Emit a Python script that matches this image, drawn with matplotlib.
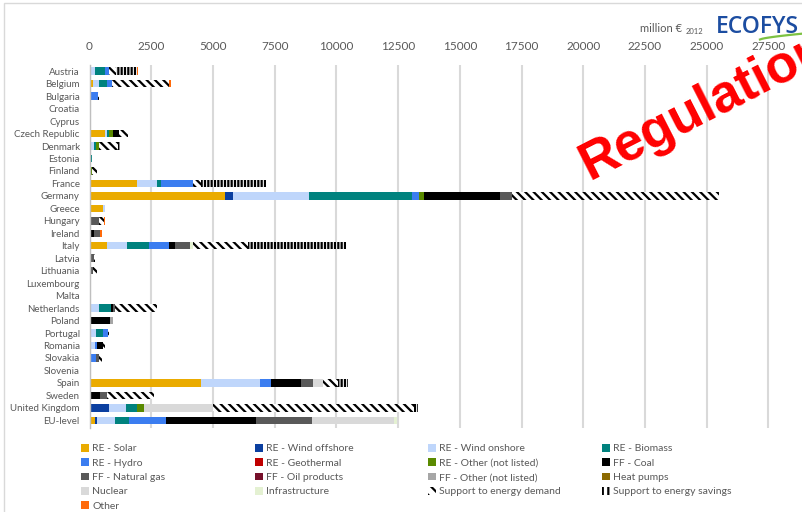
import matplotlib.pyplot as plt
import numpy as np
from matplotlib.patches import Patch, Rectangle
from matplotlib.lines import Line2D

plt.rcParams['font.family'] = ['Lato', 'DejaVu Sans']
plt.rcParams['hatch.linewidth'] = 1.6

# data (million EUR 2012)
countries = ['Austria', 'Belgium', 'Bulgaria', 'Croatia', 'Cyprus', 'Czech Republic', 'Denmark',
             'Estonia', 'Finland', 'France', 'Germany', 'Greece', 'Hungary', 'Ireland', 'Italy',
             'Latvia', 'Lithuania', 'Luxembourg', 'Malta', 'Netherlands', 'Poland', 'Portugal',
             'Romania', 'Slovakia', 'Slovenia', 'Spain', 'Sweden', 'United Kingdom', 'EU-level']

#            Aut  Bel  Bul Cro Cyp  Cze  Den Est Fin  Fra   Ger  Gre  Hun Ire  Ita Lat Lit Lux Mal  Net  Pol  Por  Rom  Slk  Slo   Spa   Swe   UK    EU
solar =     [30,  160, 0,  0,  0,   620, 0,  0,  0,   1930, 5470, 565, 0,  0,   715, 0,  0,  0,  0,  30,  0,   65,  0,   0,   0,   4500, 0,    0,    230]
wind_off =  [0,   0,   0,  0,  0,   0,   55, 0,  0,   0,    340,  0,   0,  0,   0,   0,  0,  0,  0,  0,   0,   0,   0,   0,   0,   0,    0,    785,  65]
wind_on =   [210, 215, 80, 25, 0,   80,  120, 0, 0,   820,  3065, 80,  0,  0,   795, 0,  0,  0,  0,  365, 0,   200, 230, 0,   0,   2400, 0,    700,  745]
biomass =   [405, 340, 0,  0,  0,   110, 70, 90, 50,  135,  4200, 0,   80, 0,   890, 0,  0,  0,  0,  485, 65,  270, 0,   0,   0,   0,    65,   445,  580]
hydro =     [135, 190, 245, 0, 0,   0,   0,  0,  0,   1300, 270,  0,   0,  0,   800, 0,  0,  50, 0,  0,   0,   200, 65,  270, 65,  445,  0,    0,    1460]
geotherm =  [0,   0,   0,  0,  0,   0,   0,  0,  0,   0,    0,    0,   0,  0,   40,  0,  0,  0,  0,  0,   0,   0,   0,   0,   0,   0,    0,    0,    30]
re_other =  [0,   0,   0,  0,  0,   135, 135, 0, 40,  0,    190,  0,   0,  70,  0,   0,  0,  0,  0,  0,   0,   0,   0,   0,   0,   0,    0,    295,  0]
coal =      [0,   0,   0,  0,  0,   245, 0,  0,  0,   0,    3105, 0,   0,  95,  230, 0,  0,  0,  0,  80,  770, 0,   245, 0,   0,   1215, 375,  0,    3615]
gas =       [0,   0,   0,  0,  0,   0,   0,  0,  0,   0,    485,  0,   325, 270, 610, 175, 150, 0, 0, 80,  0,   0,   0,   95,  0,   500,  270,  0,    2295]
oil =       [0] * 29
ff_other =  [0,   0,   0,  0,  0,   0,   0,  0,  0,   0,    0,    0,   0,  0,   0,   0,  0,  0,  0,  0,   105, 0,   0,   0,   0,   0,    0,    0,    0]
heat_pumps = [0] * 29
nuclear =   [0,   0,   0,  0,  0,   0,   0,  0,  0,   0,    0,    0,   0,  0,   0,   0,  0,  0,  0,  0,   0,   0,   0,   0,   0,   380,  0,    2765, 3305]
infra =     [0,   0,   0,  0,  0,   0,   0,  0,  0,   0,    0,    0,   0,  0,   130, 0,  0,  0,  0,  0,   0,   0,   0,   0,   0,   0,    0,    0,    140]
demand =    [310, 2310, 50, 0, 0,   365, 770, 0, 210, 340,  8370, 0,   175, 0,  2200, 40, 150, 0, 25, 1690, 0,  40,  95,  135, 0,   630,  1915, 8165, 0]
savings =   [835, 0,   0,  0,  0,   0,   70, 0,  0,   2630, 0,    0,   0,  0,   3985, 0,  0,  0,  0,  0,   0,   0,   0,   0,   0,   380,  0,    135,  0]
other =     [40,  70,  0,  0,  0,   0,   0,  0,  0,   0,    0,    0,   30, 65,  0,   0,  0,  0,  0,  0,   0,   0,   0,   0,   0,   0,    0,    0,    0]

series = [
    ('RE - Solar', solar, '#EAAB00', None),
    ('RE - Wind offshore', wind_off, '#0B3FA0', None),
    ('RE - Wind onshore', wind_on, '#BFD6FB', None),
    ('RE - Biomass', biomass, '#00827E', None),
    ('RE - Hydro', hydro, '#3B7DF0', None),
    ('RE - Geothermal', geotherm, '#C00000', None),
    ('RE - Other (not listed)', re_other, '#5A8A00', None),
    ('FF - Coal', coal, '#000000', None),
    ('FF - Natural gas', gas, '#595959', None),
    ('FF - Oil products', oil, '#76102B', None),
    ('FF - Other (not listed)', ff_other, '#A6A6A6', None),
    ('Heat pumps', heat_pumps, '#8C6A00', None),
    ('Nuclear', nuclear, '#D9D9D9', None),
    ('Infrastructure', infra, '#E4F1D2', None),
    ('Support to energy demand', demand, 'white', '\\\\\\\\'),
    ('Support to energy savings', savings, 'white', '|||||'),
    ('Other', other, '#FF6A0A', None),
]

W, H = 802, 512
fig = plt.figure(figsize=(W / 100, H / 100), dpi=100)
ax = fig.add_axes([89.5 / W, 84 / H, 740.7 / W, 363 / H])

y = np.arange(len(countries))
left = np.zeros(len(countries))
handles = {}
for name, vals, col, hatch in series:
    vals = np.array(vals, dtype=float)
    if hatch:
        ax.barh(y, vals, left=left, height=0.6, color='white', edgecolor='black',
                hatch=hatch, linewidth=0)
        handles[name] = Patch(facecolor='white', edgecolor='black', hatch='\\\\\\' if '\\' in hatch else '|||', linewidth=0)
    else:
        ax.barh(y, vals, left=left, height=0.6, color=col, linewidth=0)
        handles[name] = Patch(facecolor=col, linewidth=0)
    left += vals

ax.set_xlim(0, 30000)
ax.set_ylim(28.62, -0.5)
ax.set_xticks(np.arange(0, 30000, 2500))
ax.set_yticks(y)
ax.set_yticklabels(countries)
ax.xaxis.tick_top()
ax.tick_params(axis='x', length=0, pad=9, labelsize=8.5, labelcolor='#595959')
ax.tick_params(axis='y', length=0, pad=7, labelsize=7, labelcolor='#595959')
ax.grid(axis='x', color='#D9D9D9', linewidth=1.5)
ax.set_axisbelow(True)
for s in ['top', 'right', 'bottom']:
    ax.spines[s].set_visible(False)
ax.spines['left'].set_color('#BFBFBF')
ax.spines['left'].set_linewidth(1)

# legend, laid out row-wise in four columns like the source
order = [s[0] for s in series]
col_x = [81, 255, 428, 602]
for c in range(4):
    names = order[c::4]
    fig.legend([handles[n] for n in names], names, loc='upper left',
               bbox_to_anchor=(col_x[c] / W, 1 - 444 / H), frameon=False,
               fontsize=7.5, labelcolor='#595959', handlelength=0.75, handleheight=0.75,
               handletextpad=0.35, labelspacing=0.47, borderpad=0, borderaxespad=0)

# outer chart frame
fig.add_artist(Rectangle((4 / W, -0.2), 1.2, 1.2 + (H - 3) / H - 1.0, transform=fig.transFigure,
                         fill=False, edgecolor='#D9D9D9', linewidth=1))

# header: unit and logo
fig.text(640 / W, 1 - 32 / H, 'million €', fontsize=8, color='#595959', va='baseline')
fig.text(686 / W, 1 - 34 / H, '2012', fontsize=5.5, color='#595959', va='baseline')
fig.text(716 / W, 1 - 33 / H, 'ECOFYS', fontsize=16.5, color='#1C4DA1', va='baseline',
         fontweight='semibold', family=['Open Sans', 'DejaVu Sans'])
sw = np.linspace(0, 1, 20)
fig.add_artist(Line2D((760 + 44 * sw) / W, 1 - (39.5 - 6 * sw ** 0.7) / H,
                      color='#7DC242', linewidth=1.6, transform=fig.transFigure))

# watermark
fig.text(590 / W, 1 - 180 / H, 'Regulation', fontsize=38, color='#FF0000', fontweight='bold',
         rotation=27, rotation_mode='anchor', ha='left', va='baseline',
         family=['Liberation Sans', 'DejaVu Sans'])

fig.savefig('out.png', dpi=100)
